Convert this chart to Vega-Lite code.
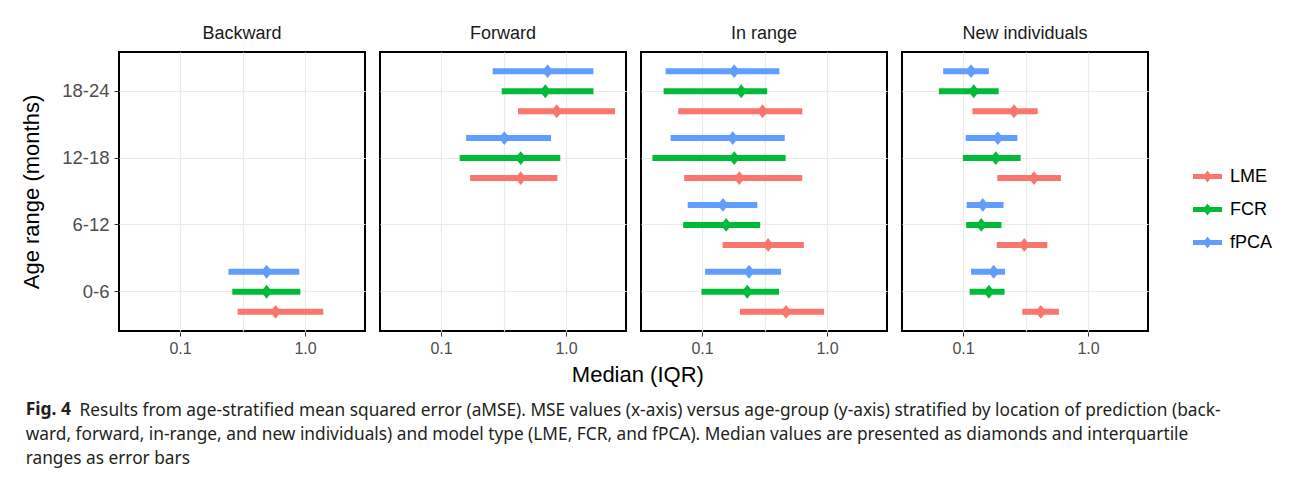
{
  "$schema": "https://vega.github.io/schema/vega-lite/v6.json",
  "padding": {"left": 20, "top": 25, "right": 5, "bottom": 5},
  "data": {"values": [
    {"loc": "Backward", "age": "0-6", "model": "fPCA", "low": 0.244, "median": 0.493, "high": 0.90},
    {"loc": "Backward", "age": "0-6", "model": "FCR", "low": 0.262, "median": 0.493, "high": 0.918},
    {"loc": "Backward", "age": "0-6", "model": "LME", "low": 0.289, "median": 0.582, "high": 1.40},
    {"loc": "Forward", "age": "18-24", "model": "fPCA", "low": 0.259, "median": 0.713, "high": 1.655},
    {"loc": "Forward", "age": "18-24", "model": "FCR", "low": 0.306, "median": 0.683, "high": 1.66},
    {"loc": "Forward", "age": "18-24", "model": "LME", "low": 0.413, "median": 0.842, "high": 2.47},
    {"loc": "Forward", "age": "12-18", "model": "fPCA", "low": 0.159, "median": 0.321, "high": 0.759},
    {"loc": "Forward", "age": "12-18", "model": "FCR", "low": 0.141, "median": 0.434, "high": 0.90},
    {"loc": "Forward", "age": "12-18", "model": "LME", "low": 0.171, "median": 0.434, "high": 0.853},
    {"loc": "In range", "age": "18-24", "model": "fPCA", "low": 0.0512, "median": 0.181, "high": 0.416},
    {"loc": "In range", "age": "18-24", "model": "FCR", "low": 0.0493, "median": 0.206, "high": 0.332},
    {"loc": "In range", "age": "18-24", "model": "LME", "low": 0.0645, "median": 0.305, "high": 0.634},
    {"loc": "In range", "age": "12-18", "model": "fPCA", "low": 0.0561, "median": 0.176, "high": 0.459},
    {"loc": "In range", "age": "12-18", "model": "FCR", "low": 0.0401, "median": 0.181, "high": 0.467},
    {"loc": "In range", "age": "12-18", "model": "LME", "low": 0.072, "median": 0.199, "high": 0.634},
    {"loc": "In range", "age": "6-12", "model": "fPCA", "low": 0.0769, "median": 0.147, "high": 0.277},
    {"loc": "In range", "age": "6-12", "model": "FCR", "low": 0.0707, "median": 0.156, "high": 0.292},
    {"loc": "In range", "age": "6-12", "model": "LME", "low": 0.146, "median": 0.338, "high": 0.653},
    {"loc": "In range", "age": "0-6", "model": "fPCA", "low": 0.106, "median": 0.238, "high": 0.429},
    {"loc": "In range", "age": "0-6", "model": "FCR", "low": 0.099, "median": 0.230, "high": 0.413},
    {"loc": "In range", "age": "0-6", "model": "LME", "low": 0.201, "median": 0.47, "high": 0.946},
    {"loc": "New individuals", "age": "18-24", "model": "fPCA", "low": 0.0694, "median": 0.116, "high": 0.161},
    {"loc": "New individuals", "age": "18-24", "model": "FCR", "low": 0.0641, "median": 0.122, "high": 0.193},
    {"loc": "New individuals", "age": "18-24", "model": "LME", "low": 0.119, "median": 0.256, "high": 0.396},
    {"loc": "New individuals", "age": "12-18", "model": "fPCA", "low": 0.105, "median": 0.19, "high": 0.272},
    {"loc": "New individuals", "age": "12-18", "model": "FCR", "low": 0.0997, "median": 0.183, "high": 0.289},
    {"loc": "New individuals", "age": "12-18", "model": "LME", "low": 0.188, "median": 0.37, "high": 0.607},
    {"loc": "New individuals", "age": "6-12", "model": "fPCA", "low": 0.107, "median": 0.144, "high": 0.211},
    {"loc": "New individuals", "age": "6-12", "model": "FCR", "low": 0.106, "median": 0.14, "high": 0.203},
    {"loc": "New individuals", "age": "6-12", "model": "LME", "low": 0.186, "median": 0.309, "high": 0.473},
    {"loc": "New individuals", "age": "0-6", "model": "fPCA", "low": 0.116, "median": 0.176, "high": 0.217},
    {"loc": "New individuals", "age": "0-6", "model": "FCR", "low": 0.113, "median": 0.161, "high": 0.215},
    {"loc": "New individuals", "age": "0-6", "model": "LME", "low": 0.298, "median": 0.419, "high": 0.585}
  ]},
  "title": {
    "text": "Fig. 4",
    "subtitle": [
      "\u200b\u00a0\u00a0\u00a0\u00a0\u00a0\u00a0\u00a0\u00a0\u00a0\u00a0\u00a0\u00a0Results from age-stratified mean squared error (aMSE). MSE values (x-axis) versus age-group (y-axis) stratified by location of prediction (back-",
      "ward, forward, in-range, and new individuals) and model type (LME, FCR, and fPCA). Median values are presented as diamonds and interquartile",
      "ranges as error bars"
    ],
    "orient": "bottom",
    "anchor": "start",
    "frame": "bounds",
    "dx": 5,
    "offset": 15,
    "font": "Noto Sans",
    "fontSize": 17.5,
    "fontWeight": "bold",
    "color": "#231F20",
    "subtitleFont": "Noto Sans",
    "subtitleFontSize": 17.3,
    "subtitleFontWeight": "normal",
    "subtitleColor": "#231F20",
    "subtitleLineHeight": 24,
    "subtitlePadding": -17
  },
  "vconcat": [
    {
      "title": {
        "text": "Median (IQR)",
        "orient": "bottom",
        "anchor": "middle",
        "frame": "bounds",
        "dx": 53,
        "font": "Liberation Sans",
        "fontSize": 22,
        "fontWeight": "normal",
        "color": "#000000",
        "offset": 9
      },
      "facet": {
        "column": {
          "field": "loc",
          "type": "nominal",
          "sort": ["Backward", "Forward", "In range", "New individuals"],
          "header": {
            "title": null,
            "labelFont": "Liberation Sans",
            "labelFontSize": 18,
            "labelColor": "#1A1A1A",
            "labelPadding": 8
          }
        }
      },
      "spacing": 13,
      "spec": {
        "width": 246,
        "height": 279,
        "encoding": {
          "y": {
            "field": "age",
            "type": "nominal",
            "sort": ["18-24", "12-18", "6-12", "0-6"],
            "scale": {"paddingInner": 0, "paddingOuter": 0.087},
            "axis": {
              "title": "Age range (months)",
              "titleFont": "Liberation Sans",
              "titleFontSize": 22,
              "titleFontWeight": "normal",
              "titleColor": "#000000",
              "titlePadding": 18,
              "labelFont": "Liberation Sans",
              "labelFontSize": 18.5,
              "labelColor": "#4D4D4D",
              "labelPadding": 5,
              "tickSize": 4,
              "tickColor": "#333333",
              "domain": false,
              "grid": true,
              "gridColor": "#EBEBEB",
              "gridWidth": 1.2,
              "bandPosition": 0.5
            }
          },
          "yOffset": {
            "field": "model",
            "type": "nominal",
            "sort": ["fPCA", "FCR", "LME"],
            "scale": {"paddingInner": 0, "paddingOuter": 0.17}
          },
          "color": {
            "field": "model",
            "type": "nominal",
            "scale": {"domain": ["LME", "FCR", "fPCA"], "range": ["#F8766D", "#00BA38", "#619CFF"]},
            "legend": {
              "title": null,
              "orient": "none",
              "legendX": 1074,
              "legendY": 110,
              "symbolType": "M-1,-0.17H1V0.17H-1Z M0,-0.42L0.31,0L0,0.42L-0.31,0Z",
              "symbolSize": 841,
              "symbolStrokeWidth": 0,
              "symbolOpacity": 1,
              "labelFont": "Liberation Sans",
              "labelFontSize": 18,
              "labelColor": "#000000",
              "labelOffset": 8,
              "rowPadding": 9
            }
          }
        },
        "layer": [
          {
            "mark": {"type": "point", "shape": "M0,-1L0.8,0L0,1L-0.8,0Z", "filled": true, "size": 190, "opacity": 1, "strokeWidth": 0},
            "encoding": {
              "x": {
                "field": "median",
                "type": "quantitative",
                "scale": {"type": "log", "domain": [0.0325, 3.02], "nice": false, "zero": false},
                "axis": {
                  "title": null,
                  "values": [0.1, 0.3162, 1],
                  "labelExpr": "datum.value == 1 ? '1.0' : (datum.value == 0.1 ? '0.1' : '')",
                  "labelFont": "Liberation Sans",
                  "labelFontSize": 16,
                  "labelColor": "#4D4D4D",
                  "labelPadding": 4,
                  "tickSize": 4,
                  "tickColor": {"condition": {"test": "datum.value > 0.2 && datum.value < 0.5", "value": "rgba(0,0,0,0)"}, "value": "#333333"},
                  "domain": false,
                  "grid": true,
                  "gridColor": "#EBEBEB",
                  "gridWidth": 1.2
                }
              }
            }
          },
          {
            "mark": {"type": "rule", "strokeWidth": 6, "strokeCap": "butt"},
            "encoding": {
              "x": {"field": "low", "type": "quantitative"},
              "x2": {"field": "high"}
            }
          }
        ]
      }
    }
  ],
  "config": {
    "view": {"stroke": "#000000", "strokeWidth": 2},
    "background": "#FFFFFF"
  }
}
